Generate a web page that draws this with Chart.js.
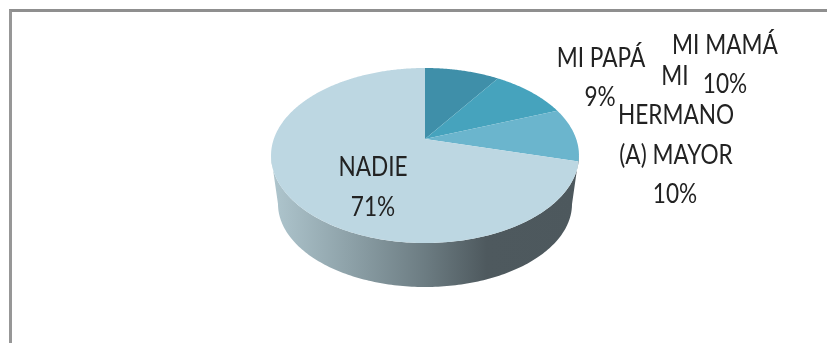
<!DOCTYPE html>
<html>
<head>
<meta charset="utf-8">
<title>Pie</title>
<script src="https://cdn.jsdelivr.net/npm/chart.js@4"></script>
<style>
    html, body { margin: 0; background: #fff; overflow: hidden; }
    #frame {
        position: absolute; left: 9px; top: 9px; right: 0; bottom: 0;
        border-top: 3px solid #8f8f8f; border-left: 3px solid #979797;
    }
    canvas { position: absolute; left: 0; top: 0; }
</style>
</head>
<body>
<div id="frame"></div>
<canvas id="pie" width="827" height="343"></canvas>
<script>
const categories = ["MI PAPÁ", "MI MAMÁ", "MI HERMANO (A) MAYOR", "NADIE"];
const values = [9.4, 9.8, 9.9, 70.9];
const percentLabels = ["9%", "10%", "10%", "71%"];
const sliceColors = ["#3f8fa9", "#46a3bd", "#6bb5cd", "#bdd7e2"];

// the original is a perspective pie, so the apex is not at the middle of the ellipse
const view = { x: 425, y: 139, rx: 151.2, ry: 84.4, tilt: -0.1886 };
const wall = { x: 425, y: 204, rx: 147, ry: 83 };

// label text placed where the reference has it, [text, center x, baseline y]
const labelSpots = [
    [categories[0], 601, 67], [percentLabels[0], 600, 106],
    [categories[1], 725, 54], [percentLabels[1], 725, 93],
    ["MI", 675, 85], ["HERMANO", 676, 124], ["(A) MAYOR", 676, 164], [percentLabels[2], 675, 203],
    [categories[3], 373, 176], [percentLabels[3], 373, 216],
];

function project(angle) {
    const u = Math.cos(angle), v = Math.sin(angle);
    const d = 1 + view.tilt * v;
    return [view.x + view.rx * u / d, view.y + view.ry * v / d];
}

const perspectivePie = {
    id: "perspectivePie",
    beforeDatasetDraw(chart) {
        const ctx = chart.ctx;
        const rightEdge = 0.19, leftEdge = Math.PI - 0.19;

        // side wall
        const grad = ctx.createLinearGradient(271, 0, 579, 0);
        grad.addColorStop(0, "#afc6ce");
        grad.addColorStop(0.25, "#8ea2a9");
        grad.addColorStop(0.5, "#6c7c82");
        grad.addColorStop(0.7, "#4e595e");
        grad.addColorStop(1, "#4d585d");
        ctx.beginPath();
        for (let a = rightEdge; a <= leftEdge; a += 0.02) {
            ctx.lineTo(...project(a));
        }
        for (let a = Math.PI; a >= 0; a -= 0.02) {
            ctx.lineTo(wall.x + wall.rx * Math.cos(a), wall.y + wall.ry * Math.sin(a));
        }
        ctx.closePath();
        ctx.fillStyle = grad;
        ctx.fill();

        // top face, angles come from the library's arc elements
        chart.getDatasetMeta(0).data.forEach((arc) => {
            ctx.beginPath();
            ctx.moveTo(view.x, view.y);
            for (let a = arc.startAngle; a < arc.endAngle; a += 0.01) {
                ctx.lineTo(...project(a));
            }
            ctx.lineTo(...project(arc.endAngle));
            ctx.closePath();
            ctx.fillStyle = arc.options.backgroundColor;
            ctx.fill();
        });
        return false;
    },
    afterDatasetsDraw(chart) {
        const ctx = chart.ctx;
        ctx.font = "26px Lato";
        ctx.fillStyle = "#222222";
        ctx.textAlign = "center";
        // Lato runs wider than the reference's face, squeeze it a bit
        labelSpots.forEach(([text, x, y]) => {
            ctx.save();
            ctx.translate(x, y);
            ctx.scale(0.87, 1);
            ctx.fillText(text, 0, 0);
            ctx.restore();
        });
    },
};

new Chart(document.getElementById("pie"), {
    type: "pie",
    data: {
        labels: categories,
        datasets: [{ data: values, backgroundColor: sliceColors, borderWidth: 0 }],
    },
    options: {
        responsive: false,
        animation: false,
        plugins: { legend: { display: false }, tooltip: { enabled: false } },
    },
    plugins: [perspectivePie],
});
</script>
</body>
</html>
